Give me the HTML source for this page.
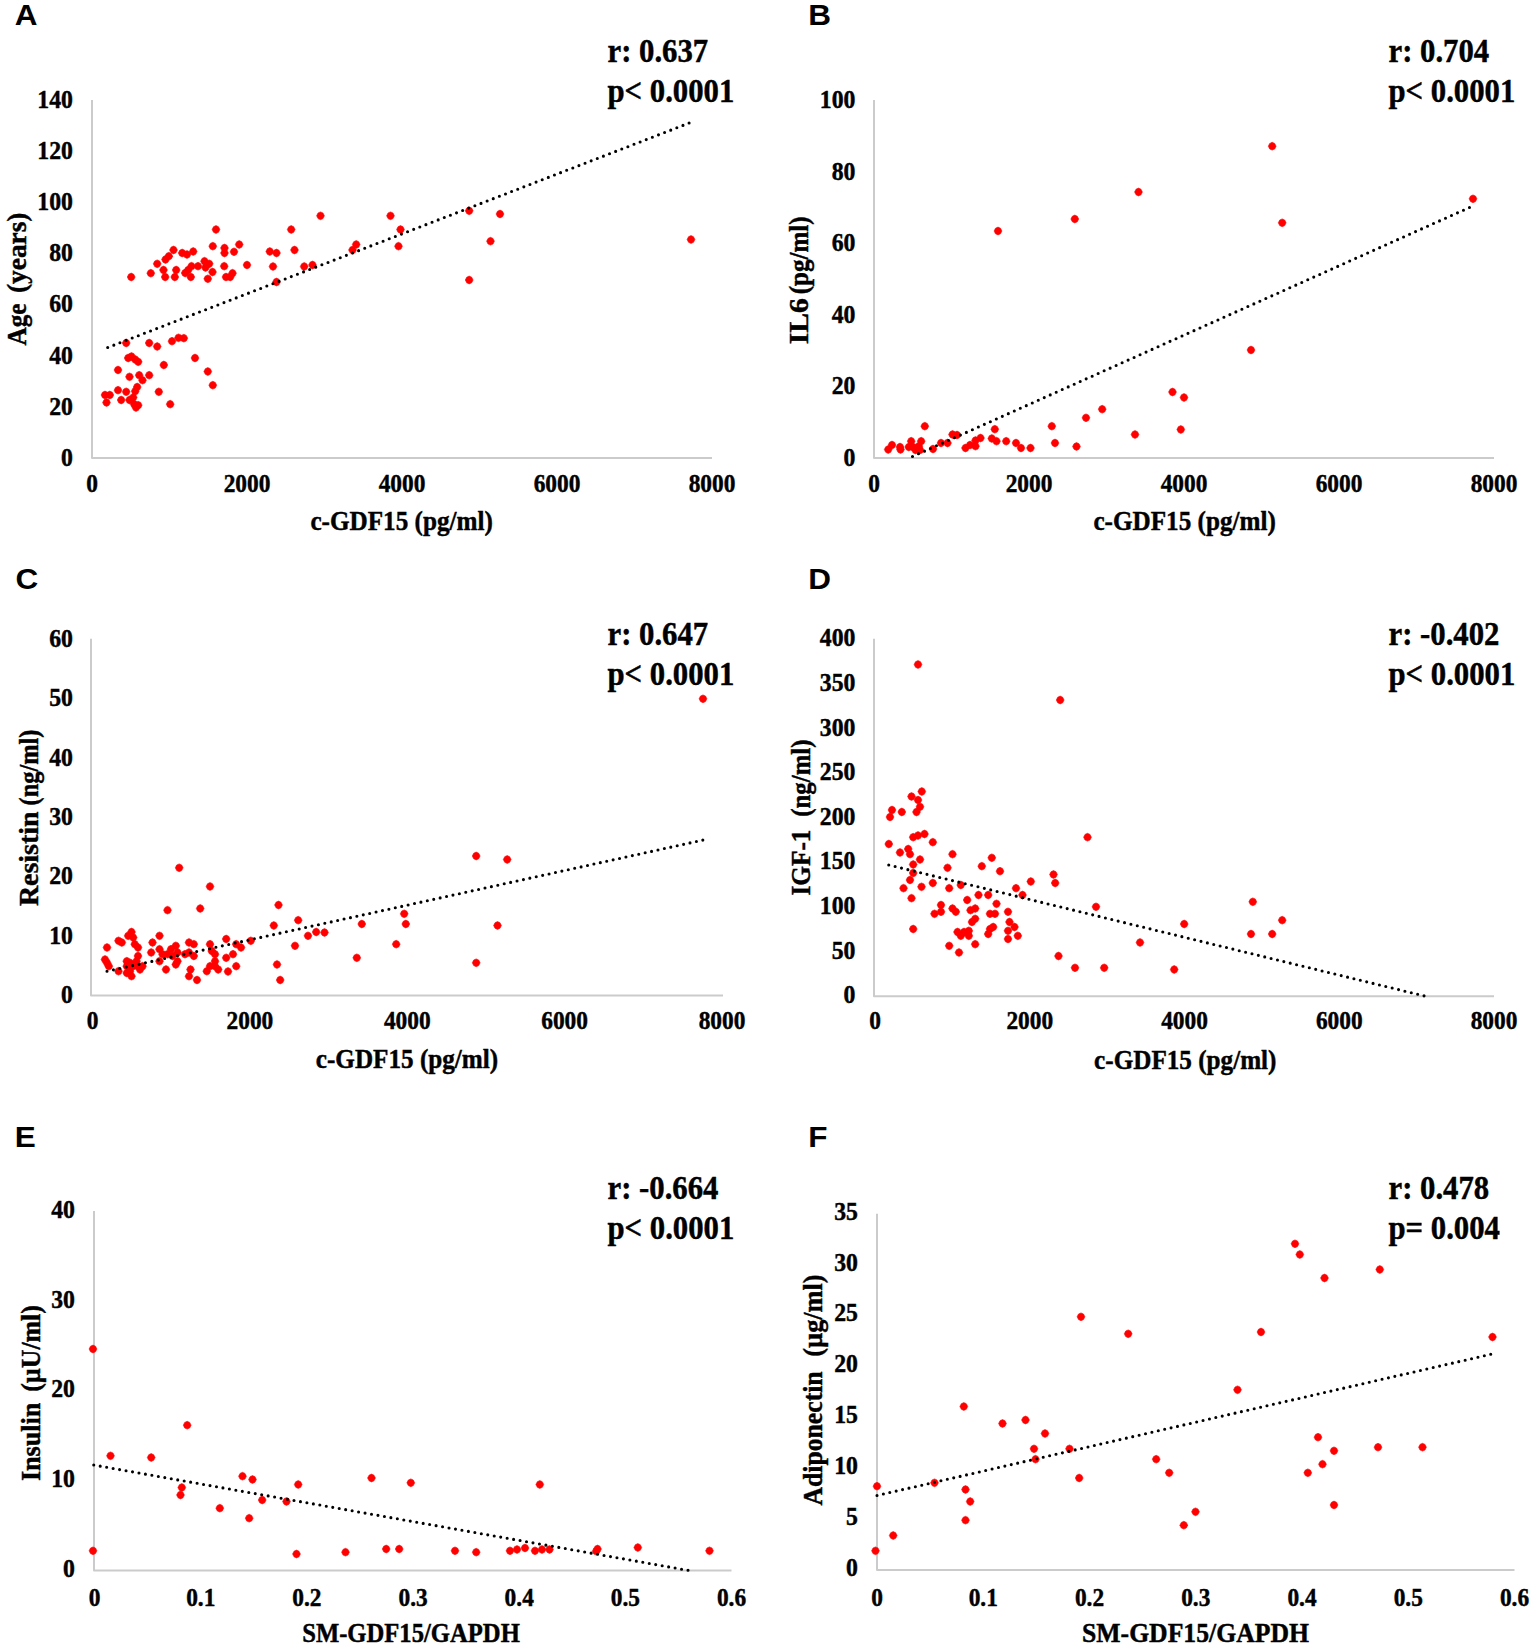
<!DOCTYPE html>
<html lang="en"><head><meta charset="utf-8"><title>Figure</title>
<style>html,body{margin:0;padding:0;background:#fff}svg{display:block}</style></head>
<body>
<svg width="1535" height="1648" viewBox="0 0 1535 1648">
<rect width="1535" height="1648" fill="#fff"/>
<defs><path id="m" d="M0 -3.9L2.5 -2.8L3.9 0L2.5 2.8L0 3.9L-2.5 2.8L-3.9 0L-2.5 -2.8Z" stroke="#fe0000" stroke-width="0.6" stroke-linejoin="round"/></defs>
<g id="panel-A">
<text transform="translate(14.8,25.3) scale(1.05,1.0)" text-anchor="start" font-size="30" font-family="Liberation Sans, sans-serif" font-weight="bold" stroke="#000" stroke-width="0">A</text>
<path d="M92 100V458.1H712" fill="none" stroke="#cbcbcb" stroke-width="2" stroke-linejoin="round"/>
<text transform="translate(72.9,465.7) scale(0.95,1.0)" text-anchor="end" font-size="25" font-family="Liberation Serif, serif" font-weight="bold" stroke="#000" stroke-width="0.45">0</text>
<text transform="translate(72.9,414.63) scale(0.95,1.0)" text-anchor="end" font-size="25" font-family="Liberation Serif, serif" font-weight="bold" stroke="#000" stroke-width="0.45">20</text>
<text transform="translate(72.9,363.56) scale(0.95,1.0)" text-anchor="end" font-size="25" font-family="Liberation Serif, serif" font-weight="bold" stroke="#000" stroke-width="0.45">40</text>
<text transform="translate(72.9,312.49) scale(0.95,1.0)" text-anchor="end" font-size="25" font-family="Liberation Serif, serif" font-weight="bold" stroke="#000" stroke-width="0.45">60</text>
<text transform="translate(72.9,261.41) scale(0.95,1.0)" text-anchor="end" font-size="25" font-family="Liberation Serif, serif" font-weight="bold" stroke="#000" stroke-width="0.45">80</text>
<text transform="translate(72.9,210.34) scale(0.95,1.0)" text-anchor="end" font-size="25" font-family="Liberation Serif, serif" font-weight="bold" stroke="#000" stroke-width="0.45">100</text>
<text transform="translate(72.9,159.27) scale(0.95,1.0)" text-anchor="end" font-size="25" font-family="Liberation Serif, serif" font-weight="bold" stroke="#000" stroke-width="0.45">120</text>
<text transform="translate(72.9,108.2) scale(0.95,1.0)" text-anchor="end" font-size="25" font-family="Liberation Serif, serif" font-weight="bold" stroke="#000" stroke-width="0.45">140</text>
<text transform="translate(92.0,492) scale(0.935,1.0)" text-anchor="middle" font-size="25" font-family="Liberation Serif, serif" font-weight="bold" stroke="#000" stroke-width="0.45">0</text>
<text transform="translate(247.0,492) scale(0.935,1.0)" text-anchor="middle" font-size="25" font-family="Liberation Serif, serif" font-weight="bold" stroke="#000" stroke-width="0.45">2000</text>
<text transform="translate(402.0,492) scale(0.935,1.0)" text-anchor="middle" font-size="25" font-family="Liberation Serif, serif" font-weight="bold" stroke="#000" stroke-width="0.45">4000</text>
<text transform="translate(557.0,492) scale(0.935,1.0)" text-anchor="middle" font-size="25" font-family="Liberation Serif, serif" font-weight="bold" stroke="#000" stroke-width="0.45">6000</text>
<text transform="translate(712.0,492) scale(0.935,1.0)" text-anchor="middle" font-size="25" font-family="Liberation Serif, serif" font-weight="bold" stroke="#000" stroke-width="0.45">8000</text>
<text transform="translate(401.6,530) scale(0.95,1.0)" text-anchor="middle" font-size="26.5" font-family="Liberation Serif, serif" font-weight="bold" stroke="#000" stroke-width="0.45">c-GDF15 (pg/ml)</text>
<text transform="translate(26.3,345.5) rotate(-90)" font-size="27.3" font-family="Liberation Serif, serif" font-weight="bold" stroke="#000" stroke-width="0.45" textLength="42.0" lengthAdjust="spacingAndGlyphs">Age</text>
<text transform="translate(26.3,293.0) rotate(-90)" font-size="27.3" font-family="Liberation Serif, serif" font-weight="bold" stroke="#000" stroke-width="0.45" textLength="80.4" lengthAdjust="spacingAndGlyphs">(years)</text>
<text transform="translate(607.5,62) scale(0.932,1.0)" text-anchor="start" font-size="33" font-family="Liberation Serif, serif" font-weight="bold" stroke="#000" stroke-width="0.45">r: 0.637</text>
<text transform="translate(607.5,102) scale(0.932,1.0)" text-anchor="start" font-size="33" font-family="Liberation Serif, serif" font-weight="bold" stroke="#000" stroke-width="0.45">p&lt; 0.0001</text>
<g fill="#fe0000">
<use href="#m" x="320.5" y="215.8"/>
<use href="#m" x="390.5" y="215.8"/>
<use href="#m" x="216.0" y="229.5"/>
<use href="#m" x="291.2" y="229.5"/>
<use href="#m" x="400.5" y="229.5"/>
<use href="#m" x="356.2" y="244.5"/>
<use href="#m" x="352.5" y="250.0"/>
<use href="#m" x="398.5" y="246.2"/>
<use href="#m" x="239.2" y="244.5"/>
<use href="#m" x="212.8" y="246.2"/>
<use href="#m" x="224.5" y="248.0"/>
<use href="#m" x="224.5" y="253.0"/>
<use href="#m" x="234.0" y="251.8"/>
<use href="#m" x="173.5" y="250.0"/>
<use href="#m" x="182.2" y="253.0"/>
<use href="#m" x="187.0" y="254.5"/>
<use href="#m" x="193.2" y="251.5"/>
<use href="#m" x="168.8" y="256.2"/>
<use href="#m" x="165.5" y="259.5"/>
<use href="#m" x="157.2" y="263.8"/>
<use href="#m" x="204.5" y="261.2"/>
<use href="#m" x="209.2" y="263.8"/>
<use href="#m" x="198.0" y="266.2"/>
<use href="#m" x="191.5" y="266.2"/>
<use href="#m" x="188.2" y="270.0"/>
<use href="#m" x="185.2" y="273.0"/>
<use href="#m" x="190.8" y="277.0"/>
<use href="#m" x="163.5" y="270.0"/>
<use href="#m" x="176.2" y="270.0"/>
<use href="#m" x="174.8" y="277.0"/>
<use href="#m" x="165.2" y="277.0"/>
<use href="#m" x="150.8" y="273.2"/>
<use href="#m" x="131.2" y="277.0"/>
<use href="#m" x="205.5" y="267.5"/>
<use href="#m" x="212.5" y="272.0"/>
<use href="#m" x="207.8" y="278.8"/>
<use href="#m" x="224.2" y="266.2"/>
<use href="#m" x="226.0" y="277.0"/>
<use href="#m" x="230.2" y="277.0"/>
<use href="#m" x="232.5" y="273.2"/>
<use href="#m" x="247.0" y="265.0"/>
<use href="#m" x="269.8" y="251.5"/>
<use href="#m" x="276.5" y="253.0"/>
<use href="#m" x="294.5" y="250.0"/>
<use href="#m" x="273.0" y="266.5"/>
<use href="#m" x="276.5" y="282.0"/>
<use href="#m" x="304.2" y="266.5"/>
<use href="#m" x="312.5" y="265.0"/>
<use href="#m" x="126.2" y="343.0"/>
<use href="#m" x="149.2" y="343.0"/>
<use href="#m" x="157.2" y="346.5"/>
<use href="#m" x="172.0" y="341.2"/>
<use href="#m" x="178.5" y="337.8"/>
<use href="#m" x="183.8" y="338.2"/>
<use href="#m" x="128.2" y="358.0"/>
<use href="#m" x="131.5" y="356.5"/>
<use href="#m" x="135.2" y="359.5"/>
<use href="#m" x="138.2" y="361.8"/>
<use href="#m" x="195.0" y="358.0"/>
<use href="#m" x="163.8" y="365.0"/>
<use href="#m" x="118.0" y="370.0"/>
<use href="#m" x="207.8" y="371.5"/>
<use href="#m" x="129.5" y="376.8"/>
<use href="#m" x="139.2" y="375.2"/>
<use href="#m" x="142.5" y="380.2"/>
<use href="#m" x="149.2" y="375.2"/>
<use href="#m" x="212.8" y="385.2"/>
<use href="#m" x="137.2" y="387.0"/>
<use href="#m" x="135.2" y="391.2"/>
<use href="#m" x="118.0" y="390.2"/>
<use href="#m" x="126.2" y="391.8"/>
<use href="#m" x="105.0" y="395.0"/>
<use href="#m" x="109.8" y="395.0"/>
<use href="#m" x="158.8" y="391.8"/>
<use href="#m" x="106.5" y="402.5"/>
<use href="#m" x="121.2" y="400.0"/>
<use href="#m" x="129.5" y="400.0"/>
<use href="#m" x="133.2" y="397.5"/>
<use href="#m" x="134.2" y="404.2"/>
<use href="#m" x="138.2" y="405.2"/>
<use href="#m" x="136.0" y="407.5"/>
<use href="#m" x="170.2" y="404.2"/>
<use href="#m" x="469.2" y="210.8"/>
<use href="#m" x="500.0" y="214.0"/>
<use href="#m" x="490.5" y="241.2"/>
<use href="#m" x="691.0" y="239.5"/>
<use href="#m" x="469.2" y="280.0"/>
</g>
<line x1="107.7" y1="347.5" x2="690.5" y2="122.5" stroke="#000" stroke-width="3.1" stroke-linecap="round" stroke-dasharray="0 6.56"/>
</g>
<g id="panel-B">
<text transform="translate(808.2,25.3) scale(1.05,1.0)" text-anchor="start" font-size="30" font-family="Liberation Sans, sans-serif" font-weight="bold" stroke="#000" stroke-width="0">B</text>
<path d="M874 100V458.1H1494" fill="none" stroke="#cbcbcb" stroke-width="2" stroke-linejoin="round"/>
<text transform="translate(855.4,465.7) scale(0.95,1.0)" text-anchor="end" font-size="25" font-family="Liberation Serif, serif" font-weight="bold" stroke="#000" stroke-width="0.45">0</text>
<text transform="translate(855.4,394.2) scale(0.95,1.0)" text-anchor="end" font-size="25" font-family="Liberation Serif, serif" font-weight="bold" stroke="#000" stroke-width="0.45">20</text>
<text transform="translate(855.4,322.7) scale(0.95,1.0)" text-anchor="end" font-size="25" font-family="Liberation Serif, serif" font-weight="bold" stroke="#000" stroke-width="0.45">40</text>
<text transform="translate(855.4,251.2) scale(0.95,1.0)" text-anchor="end" font-size="25" font-family="Liberation Serif, serif" font-weight="bold" stroke="#000" stroke-width="0.45">60</text>
<text transform="translate(855.4,179.7) scale(0.95,1.0)" text-anchor="end" font-size="25" font-family="Liberation Serif, serif" font-weight="bold" stroke="#000" stroke-width="0.45">80</text>
<text transform="translate(855.4,108.2) scale(0.95,1.0)" text-anchor="end" font-size="25" font-family="Liberation Serif, serif" font-weight="bold" stroke="#000" stroke-width="0.45">100</text>
<text transform="translate(874.0,492) scale(0.935,1.0)" text-anchor="middle" font-size="25" font-family="Liberation Serif, serif" font-weight="bold" stroke="#000" stroke-width="0.45">0</text>
<text transform="translate(1029.0,492) scale(0.935,1.0)" text-anchor="middle" font-size="25" font-family="Liberation Serif, serif" font-weight="bold" stroke="#000" stroke-width="0.45">2000</text>
<text transform="translate(1184.0,492) scale(0.935,1.0)" text-anchor="middle" font-size="25" font-family="Liberation Serif, serif" font-weight="bold" stroke="#000" stroke-width="0.45">4000</text>
<text transform="translate(1339.0,492) scale(0.935,1.0)" text-anchor="middle" font-size="25" font-family="Liberation Serif, serif" font-weight="bold" stroke="#000" stroke-width="0.45">6000</text>
<text transform="translate(1494.0,492) scale(0.935,1.0)" text-anchor="middle" font-size="25" font-family="Liberation Serif, serif" font-weight="bold" stroke="#000" stroke-width="0.45">8000</text>
<text transform="translate(1184.6,530) scale(0.95,1.0)" text-anchor="middle" font-size="26.5" font-family="Liberation Serif, serif" font-weight="bold" stroke="#000" stroke-width="0.45">c-GDF15 (pg/ml)</text>
<text transform="translate(808.3,344.25) rotate(-90)" font-size="27.7" font-family="Liberation Serif, serif" font-weight="bold" stroke="#000" stroke-width="0.45" textLength="46.0" lengthAdjust="spacingAndGlyphs">IL6</text>
<text transform="translate(808.3,294.25) rotate(-90)" font-size="27.7" font-family="Liberation Serif, serif" font-weight="bold" stroke="#000" stroke-width="0.45" textLength="77.85" lengthAdjust="spacingAndGlyphs">(pg/ml)</text>
<text transform="translate(1388.5,62) scale(0.932,1.0)" text-anchor="start" font-size="33" font-family="Liberation Serif, serif" font-weight="bold" stroke="#000" stroke-width="0.45">r: 0.704</text>
<text transform="translate(1388.5,102) scale(0.932,1.0)" text-anchor="start" font-size="33" font-family="Liberation Serif, serif" font-weight="bold" stroke="#000" stroke-width="0.45">p&lt; 0.0001</text>
<g fill="#fe0000">
<use href="#m" x="1138.5" y="192.0"/>
<use href="#m" x="1074.8" y="219.0"/>
<use href="#m" x="998.0" y="231.0"/>
<use href="#m" x="1172.5" y="392.0"/>
<use href="#m" x="1184.0" y="397.5"/>
<use href="#m" x="1102.2" y="409.2"/>
<use href="#m" x="1086.0" y="417.8"/>
<use href="#m" x="1051.8" y="426.2"/>
<use href="#m" x="924.8" y="426.2"/>
<use href="#m" x="994.8" y="429.2"/>
<use href="#m" x="1180.8" y="429.5"/>
<use href="#m" x="1135.0" y="434.5"/>
<use href="#m" x="952.5" y="434.5"/>
<use href="#m" x="957.0" y="435.0"/>
<use href="#m" x="980.5" y="438.0"/>
<use href="#m" x="975.5" y="440.5"/>
<use href="#m" x="991.8" y="438.5"/>
<use href="#m" x="996.5" y="441.2"/>
<use href="#m" x="1006.2" y="441.2"/>
<use href="#m" x="1016.0" y="443.0"/>
<use href="#m" x="1021.0" y="448.0"/>
<use href="#m" x="1030.5" y="448.0"/>
<use href="#m" x="1055.0" y="443.0"/>
<use href="#m" x="1076.5" y="446.5"/>
<use href="#m" x="941.0" y="443.0"/>
<use href="#m" x="947.5" y="443.0"/>
<use href="#m" x="933.0" y="449.0"/>
<use href="#m" x="965.5" y="448.0"/>
<use href="#m" x="970.0" y="445.0"/>
<use href="#m" x="975.5" y="446.2"/>
<use href="#m" x="892.0" y="445.0"/>
<use href="#m" x="888.2" y="449.5"/>
<use href="#m" x="900.0" y="447.0"/>
<use href="#m" x="900.5" y="449.5"/>
<use href="#m" x="911.2" y="441.2"/>
<use href="#m" x="921.2" y="441.2"/>
<use href="#m" x="908.8" y="447.0"/>
<use href="#m" x="913.8" y="447.5"/>
<use href="#m" x="918.8" y="446.2"/>
<use href="#m" x="915.5" y="450.0"/>
<use href="#m" x="920.0" y="450.0"/>
<use href="#m" x="1272.2" y="146.2"/>
<use href="#m" x="1282.2" y="222.8"/>
<use href="#m" x="1473.0" y="198.8"/>
<use href="#m" x="1251.0" y="350.0"/>
</g>
<line x1="912.5" y1="456.5" x2="1472.25" y2="206.25" stroke="#000" stroke-width="3.1" stroke-linecap="round" stroke-dasharray="0 6.56"/>
</g>
<g id="panel-C">
<text transform="translate(15.5,589.1) scale(1.05,1.0)" text-anchor="start" font-size="30" font-family="Liberation Sans, sans-serif" font-weight="bold" stroke="#000" stroke-width="0">C</text>
<path d="M91 638.75V995.6H723" fill="none" stroke="#cbcbcb" stroke-width="2" stroke-linejoin="round"/>
<text transform="translate(72.9,1003.0) scale(0.95,1.0)" text-anchor="end" font-size="25" font-family="Liberation Serif, serif" font-weight="bold" stroke="#000" stroke-width="0.45">0</text>
<text transform="translate(72.9,943.62) scale(0.95,1.0)" text-anchor="end" font-size="25" font-family="Liberation Serif, serif" font-weight="bold" stroke="#000" stroke-width="0.45">10</text>
<text transform="translate(72.9,884.25) scale(0.95,1.0)" text-anchor="end" font-size="25" font-family="Liberation Serif, serif" font-weight="bold" stroke="#000" stroke-width="0.45">20</text>
<text transform="translate(72.9,824.88) scale(0.95,1.0)" text-anchor="end" font-size="25" font-family="Liberation Serif, serif" font-weight="bold" stroke="#000" stroke-width="0.45">30</text>
<text transform="translate(72.9,765.5) scale(0.95,1.0)" text-anchor="end" font-size="25" font-family="Liberation Serif, serif" font-weight="bold" stroke="#000" stroke-width="0.45">40</text>
<text transform="translate(72.9,706.12) scale(0.95,1.0)" text-anchor="end" font-size="25" font-family="Liberation Serif, serif" font-weight="bold" stroke="#000" stroke-width="0.45">50</text>
<text transform="translate(72.9,646.75) scale(0.95,1.0)" text-anchor="end" font-size="25" font-family="Liberation Serif, serif" font-weight="bold" stroke="#000" stroke-width="0.45">60</text>
<text transform="translate(92.5,1029) scale(0.935,1.0)" text-anchor="middle" font-size="25" font-family="Liberation Serif, serif" font-weight="bold" stroke="#000" stroke-width="0.45">0</text>
<text transform="translate(249.88,1029) scale(0.935,1.0)" text-anchor="middle" font-size="25" font-family="Liberation Serif, serif" font-weight="bold" stroke="#000" stroke-width="0.45">2000</text>
<text transform="translate(407.25,1029) scale(0.935,1.0)" text-anchor="middle" font-size="25" font-family="Liberation Serif, serif" font-weight="bold" stroke="#000" stroke-width="0.45">4000</text>
<text transform="translate(564.62,1029) scale(0.935,1.0)" text-anchor="middle" font-size="25" font-family="Liberation Serif, serif" font-weight="bold" stroke="#000" stroke-width="0.45">6000</text>
<text transform="translate(722.0,1029) scale(0.935,1.0)" text-anchor="middle" font-size="25" font-family="Liberation Serif, serif" font-weight="bold" stroke="#000" stroke-width="0.45">8000</text>
<text transform="translate(407,1068) scale(0.95,1.0)" text-anchor="middle" font-size="26.5" font-family="Liberation Serif, serif" font-weight="bold" stroke="#000" stroke-width="0.45">c-GDF15 (pg/ml)</text>
<text transform="translate(38.1,906.1) rotate(-90)" font-size="27.4" font-family="Liberation Serif, serif" font-weight="bold" stroke="#000" stroke-width="0.45" textLength="94.7" lengthAdjust="spacingAndGlyphs">Resistin</text>
<text transform="translate(38.1,805.5) rotate(-90)" font-size="27.4" font-family="Liberation Serif, serif" font-weight="bold" stroke="#000" stroke-width="0.45" textLength="76.0" lengthAdjust="spacingAndGlyphs">(ng/ml)</text>
<text transform="translate(607.5,645) scale(0.932,1.0)" text-anchor="start" font-size="33" font-family="Liberation Serif, serif" font-weight="bold" stroke="#000" stroke-width="0.45">r: 0.647</text>
<text transform="translate(607.5,685) scale(0.932,1.0)" text-anchor="start" font-size="33" font-family="Liberation Serif, serif" font-weight="bold" stroke="#000" stroke-width="0.45">p&lt; 0.0001</text>
<g fill="#fe0000">
<use href="#m" x="179.2" y="867.8"/>
<use href="#m" x="210.0" y="886.5"/>
<use href="#m" x="167.5" y="910.2"/>
<use href="#m" x="200.2" y="908.5"/>
<use href="#m" x="278.5" y="905.0"/>
<use href="#m" x="404.2" y="913.8"/>
<use href="#m" x="405.8" y="924.0"/>
<use href="#m" x="361.8" y="924.0"/>
<use href="#m" x="298.2" y="920.2"/>
<use href="#m" x="273.8" y="925.5"/>
<use href="#m" x="308.0" y="935.8"/>
<use href="#m" x="316.2" y="932.0"/>
<use href="#m" x="324.5" y="932.5"/>
<use href="#m" x="295.0" y="945.8"/>
<use href="#m" x="396.2" y="944.2"/>
<use href="#m" x="356.8" y="957.8"/>
<use href="#m" x="277.0" y="964.5"/>
<use href="#m" x="280.2" y="980.0"/>
<use href="#m" x="250.8" y="940.8"/>
<use href="#m" x="226.2" y="939.0"/>
<use href="#m" x="236.2" y="944.2"/>
<use href="#m" x="241.0" y="947.5"/>
<use href="#m" x="233.0" y="954.2"/>
<use href="#m" x="226.2" y="957.8"/>
<use href="#m" x="236.2" y="966.2"/>
<use href="#m" x="228.0" y="971.5"/>
<use href="#m" x="210.0" y="944.2"/>
<use href="#m" x="211.8" y="951.0"/>
<use href="#m" x="215.0" y="954.2"/>
<use href="#m" x="215.0" y="961.2"/>
<use href="#m" x="210.0" y="966.2"/>
<use href="#m" x="206.8" y="971.2"/>
<use href="#m" x="215.0" y="966.2"/>
<use href="#m" x="218.2" y="969.5"/>
<use href="#m" x="189.0" y="942.5"/>
<use href="#m" x="193.8" y="944.2"/>
<use href="#m" x="189.0" y="952.5"/>
<use href="#m" x="193.8" y="956.0"/>
<use href="#m" x="185.0" y="954.2"/>
<use href="#m" x="190.5" y="969.5"/>
<use href="#m" x="189.0" y="976.2"/>
<use href="#m" x="197.0" y="980.0"/>
<use href="#m" x="175.8" y="945.8"/>
<use href="#m" x="171.0" y="949.2"/>
<use href="#m" x="177.5" y="952.5"/>
<use href="#m" x="172.5" y="956.0"/>
<use href="#m" x="167.5" y="954.2"/>
<use href="#m" x="177.5" y="961.2"/>
<use href="#m" x="175.8" y="964.5"/>
<use href="#m" x="166.0" y="969.5"/>
<use href="#m" x="159.5" y="935.8"/>
<use href="#m" x="152.5" y="942.5"/>
<use href="#m" x="151.2" y="952.5"/>
<use href="#m" x="159.5" y="949.2"/>
<use href="#m" x="162.5" y="954.2"/>
<use href="#m" x="159.5" y="961.2"/>
<use href="#m" x="131.5" y="932.0"/>
<use href="#m" x="128.2" y="935.8"/>
<use href="#m" x="133.2" y="937.5"/>
<use href="#m" x="134.8" y="944.2"/>
<use href="#m" x="138.0" y="947.5"/>
<use href="#m" x="138.0" y="956.0"/>
<use href="#m" x="136.5" y="961.2"/>
<use href="#m" x="118.5" y="940.8"/>
<use href="#m" x="121.8" y="942.5"/>
<use href="#m" x="107.0" y="947.5"/>
<use href="#m" x="105.0" y="959.5"/>
<use href="#m" x="107.0" y="962.8"/>
<use href="#m" x="108.8" y="966.2"/>
<use href="#m" x="118.5" y="971.2"/>
<use href="#m" x="126.8" y="961.2"/>
<use href="#m" x="130.0" y="962.8"/>
<use href="#m" x="126.8" y="966.2"/>
<use href="#m" x="133.2" y="966.2"/>
<use href="#m" x="138.0" y="966.2"/>
<use href="#m" x="142.5" y="966.2"/>
<use href="#m" x="140.0" y="969.5"/>
<use href="#m" x="126.8" y="973.0"/>
<use href="#m" x="131.5" y="976.2"/>
<use href="#m" x="130.0" y="971.2"/>
<use href="#m" x="703.0" y="698.8"/>
<use href="#m" x="476.2" y="856.0"/>
<use href="#m" x="507.2" y="859.5"/>
<use href="#m" x="497.5" y="925.5"/>
<use href="#m" x="476.2" y="962.8"/>
</g>
<line x1="107" y1="971.25" x2="703.25" y2="840" stroke="#000" stroke-width="3.1" stroke-linecap="round" stroke-dasharray="0 6.56"/>
</g>
<g id="panel-D">
<text transform="translate(808.2,589.1) scale(1.05,1.0)" text-anchor="start" font-size="30" font-family="Liberation Sans, sans-serif" font-weight="bold" stroke="#000" stroke-width="0">D</text>
<path d="M874 638.75V996.35H1494" fill="none" stroke="#cbcbcb" stroke-width="2" stroke-linejoin="round"/>
<text transform="translate(855.4,1003.25) scale(0.95,1.0)" text-anchor="end" font-size="25" font-family="Liberation Serif, serif" font-weight="bold" stroke="#000" stroke-width="0.45">0</text>
<text transform="translate(855.4,958.62) scale(0.95,1.0)" text-anchor="end" font-size="25" font-family="Liberation Serif, serif" font-weight="bold" stroke="#000" stroke-width="0.45">50</text>
<text transform="translate(855.4,914.0) scale(0.95,1.0)" text-anchor="end" font-size="25" font-family="Liberation Serif, serif" font-weight="bold" stroke="#000" stroke-width="0.45">100</text>
<text transform="translate(855.4,869.38) scale(0.95,1.0)" text-anchor="end" font-size="25" font-family="Liberation Serif, serif" font-weight="bold" stroke="#000" stroke-width="0.45">150</text>
<text transform="translate(855.4,824.75) scale(0.95,1.0)" text-anchor="end" font-size="25" font-family="Liberation Serif, serif" font-weight="bold" stroke="#000" stroke-width="0.45">200</text>
<text transform="translate(855.4,780.12) scale(0.95,1.0)" text-anchor="end" font-size="25" font-family="Liberation Serif, serif" font-weight="bold" stroke="#000" stroke-width="0.45">250</text>
<text transform="translate(855.4,735.5) scale(0.95,1.0)" text-anchor="end" font-size="25" font-family="Liberation Serif, serif" font-weight="bold" stroke="#000" stroke-width="0.45">300</text>
<text transform="translate(855.4,690.88) scale(0.95,1.0)" text-anchor="end" font-size="25" font-family="Liberation Serif, serif" font-weight="bold" stroke="#000" stroke-width="0.45">350</text>
<text transform="translate(855.4,646.25) scale(0.95,1.0)" text-anchor="end" font-size="25" font-family="Liberation Serif, serif" font-weight="bold" stroke="#000" stroke-width="0.45">400</text>
<text transform="translate(875.0,1029) scale(0.935,1.0)" text-anchor="middle" font-size="25" font-family="Liberation Serif, serif" font-weight="bold" stroke="#000" stroke-width="0.45">0</text>
<text transform="translate(1029.75,1029) scale(0.935,1.0)" text-anchor="middle" font-size="25" font-family="Liberation Serif, serif" font-weight="bold" stroke="#000" stroke-width="0.45">2000</text>
<text transform="translate(1184.5,1029) scale(0.935,1.0)" text-anchor="middle" font-size="25" font-family="Liberation Serif, serif" font-weight="bold" stroke="#000" stroke-width="0.45">4000</text>
<text transform="translate(1339.25,1029) scale(0.935,1.0)" text-anchor="middle" font-size="25" font-family="Liberation Serif, serif" font-weight="bold" stroke="#000" stroke-width="0.45">6000</text>
<text transform="translate(1494.0,1029) scale(0.935,1.0)" text-anchor="middle" font-size="25" font-family="Liberation Serif, serif" font-weight="bold" stroke="#000" stroke-width="0.45">8000</text>
<text transform="translate(1185.3,1069.3) scale(0.95,1.0)" text-anchor="middle" font-size="26.5" font-family="Liberation Serif, serif" font-weight="bold" stroke="#000" stroke-width="0.45">c-GDF15 (pg/ml)</text>
<text transform="translate(809.9,895.5) rotate(-90)" font-size="27.4" font-family="Liberation Serif, serif" font-weight="bold" stroke="#000" stroke-width="0.45" textLength="66.0" lengthAdjust="spacingAndGlyphs">IGF-1</text>
<text transform="translate(809.9,816.75) rotate(-90)" font-size="27.4" font-family="Liberation Serif, serif" font-weight="bold" stroke="#000" stroke-width="0.45" textLength="77.25" lengthAdjust="spacingAndGlyphs">(ng/ml)</text>
<text transform="translate(1388.5,645) scale(0.932,1.0)" text-anchor="start" font-size="33" font-family="Liberation Serif, serif" font-weight="bold" stroke="#000" stroke-width="0.45">r: -0.402</text>
<text transform="translate(1388.5,685) scale(0.932,1.0)" text-anchor="start" font-size="33" font-family="Liberation Serif, serif" font-weight="bold" stroke="#000" stroke-width="0.45">p&lt; 0.0001</text>
<g fill="#fe0000">
<use href="#m" x="918.0" y="664.5"/>
<use href="#m" x="1060.2" y="700.0"/>
<use href="#m" x="921.8" y="791.5"/>
<use href="#m" x="911.5" y="796.5"/>
<use href="#m" x="918.0" y="800.0"/>
<use href="#m" x="920.0" y="806.8"/>
<use href="#m" x="916.5" y="812.0"/>
<use href="#m" x="892.0" y="810.0"/>
<use href="#m" x="890.0" y="817.0"/>
<use href="#m" x="901.8" y="812.0"/>
<use href="#m" x="924.5" y="834.0"/>
<use href="#m" x="918.0" y="835.5"/>
<use href="#m" x="913.2" y="837.2"/>
<use href="#m" x="932.8" y="842.2"/>
<use href="#m" x="888.8" y="844.0"/>
<use href="#m" x="1087.5" y="837.2"/>
<use href="#m" x="900.0" y="852.5"/>
<use href="#m" x="908.2" y="849.0"/>
<use href="#m" x="910.0" y="854.2"/>
<use href="#m" x="952.5" y="854.2"/>
<use href="#m" x="920.0" y="859.5"/>
<use href="#m" x="991.8" y="857.8"/>
<use href="#m" x="913.2" y="864.5"/>
<use href="#m" x="947.5" y="867.8"/>
<use href="#m" x="981.8" y="866.2"/>
<use href="#m" x="1000.0" y="871.2"/>
<use href="#m" x="913.2" y="873.0"/>
<use href="#m" x="1053.5" y="874.5"/>
<use href="#m" x="910.0" y="880.0"/>
<use href="#m" x="932.8" y="883.0"/>
<use href="#m" x="1030.8" y="881.5"/>
<use href="#m" x="1055.2" y="883.0"/>
<use href="#m" x="960.8" y="885.0"/>
<use href="#m" x="921.5" y="886.8"/>
<use href="#m" x="903.5" y="888.2"/>
<use href="#m" x="949.2" y="888.2"/>
<use href="#m" x="1016.0" y="888.2"/>
<use href="#m" x="978.5" y="895.0"/>
<use href="#m" x="988.2" y="895.0"/>
<use href="#m" x="1022.5" y="895.0"/>
<use href="#m" x="911.5" y="898.2"/>
<use href="#m" x="967.2" y="900.0"/>
<use href="#m" x="996.5" y="903.8"/>
<use href="#m" x="941.0" y="905.0"/>
<use href="#m" x="1096.0" y="906.8"/>
<use href="#m" x="952.5" y="908.5"/>
<use href="#m" x="975.2" y="908.5"/>
<use href="#m" x="970.5" y="910.2"/>
<use href="#m" x="955.8" y="911.8"/>
<use href="#m" x="941.0" y="911.8"/>
<use href="#m" x="934.5" y="913.8"/>
<use href="#m" x="1008.0" y="911.8"/>
<use href="#m" x="990.0" y="913.8"/>
<use href="#m" x="995.0" y="913.8"/>
<use href="#m" x="975.2" y="918.8"/>
<use href="#m" x="972.0" y="922.0"/>
<use href="#m" x="1009.5" y="922.0"/>
<use href="#m" x="1014.5" y="927.0"/>
<use href="#m" x="1184.2" y="924.0"/>
<use href="#m" x="993.2" y="927.0"/>
<use href="#m" x="990.0" y="929.0"/>
<use href="#m" x="913.2" y="929.0"/>
<use href="#m" x="1008.0" y="930.8"/>
<use href="#m" x="957.5" y="932.0"/>
<use href="#m" x="964.0" y="932.0"/>
<use href="#m" x="968.8" y="930.8"/>
<use href="#m" x="960.8" y="935.8"/>
<use href="#m" x="968.8" y="935.8"/>
<use href="#m" x="988.2" y="934.0"/>
<use href="#m" x="1017.8" y="935.8"/>
<use href="#m" x="1008.0" y="939.0"/>
<use href="#m" x="1140.0" y="942.5"/>
<use href="#m" x="975.2" y="944.2"/>
<use href="#m" x="949.2" y="945.8"/>
<use href="#m" x="959.0" y="952.5"/>
<use href="#m" x="1058.5" y="956.0"/>
<use href="#m" x="1075.0" y="967.8"/>
<use href="#m" x="1104.2" y="967.8"/>
<use href="#m" x="1174.2" y="969.5"/>
<use href="#m" x="1252.8" y="901.8"/>
<use href="#m" x="1282.2" y="920.2"/>
<use href="#m" x="1251.0" y="934.0"/>
<use href="#m" x="1272.2" y="934.0"/>
</g>
<line x1="888.75" y1="865" x2="1427.5" y2="996.7" stroke="#000" stroke-width="3.1" stroke-linecap="round" stroke-dasharray="0 6.56"/>
</g>
<g id="panel-E">
<text transform="translate(14.8,1146.9) scale(1.05,1.0)" text-anchor="start" font-size="30" font-family="Liberation Sans, sans-serif" font-weight="bold" stroke="#000" stroke-width="0">E</text>
<path d="M94 1211V1570.6H731.5" fill="none" stroke="#cbcbcb" stroke-width="2" stroke-linejoin="round"/>
<text transform="translate(74.9,1576.9) scale(0.95,1.0)" text-anchor="end" font-size="25" font-family="Liberation Serif, serif" font-weight="bold" stroke="#000" stroke-width="0.45">0</text>
<text transform="translate(74.9,1487.15) scale(0.95,1.0)" text-anchor="end" font-size="25" font-family="Liberation Serif, serif" font-weight="bold" stroke="#000" stroke-width="0.45">10</text>
<text transform="translate(74.9,1397.4) scale(0.95,1.0)" text-anchor="end" font-size="25" font-family="Liberation Serif, serif" font-weight="bold" stroke="#000" stroke-width="0.45">20</text>
<text transform="translate(74.9,1307.65) scale(0.95,1.0)" text-anchor="end" font-size="25" font-family="Liberation Serif, serif" font-weight="bold" stroke="#000" stroke-width="0.45">30</text>
<text transform="translate(74.9,1217.9) scale(0.95,1.0)" text-anchor="end" font-size="25" font-family="Liberation Serif, serif" font-weight="bold" stroke="#000" stroke-width="0.45">40</text>
<text transform="translate(94.6,1606) scale(0.935,1.0)" text-anchor="middle" font-size="25" font-family="Liberation Serif, serif" font-weight="bold" stroke="#000" stroke-width="0.45">0</text>
<text transform="translate(200.75,1606) scale(0.935,1.0)" text-anchor="middle" font-size="25" font-family="Liberation Serif, serif" font-weight="bold" stroke="#000" stroke-width="0.45">0.1</text>
<text transform="translate(306.9,1606) scale(0.935,1.0)" text-anchor="middle" font-size="25" font-family="Liberation Serif, serif" font-weight="bold" stroke="#000" stroke-width="0.45">0.2</text>
<text transform="translate(413.05,1606) scale(0.935,1.0)" text-anchor="middle" font-size="25" font-family="Liberation Serif, serif" font-weight="bold" stroke="#000" stroke-width="0.45">0.3</text>
<text transform="translate(519.2,1606) scale(0.935,1.0)" text-anchor="middle" font-size="25" font-family="Liberation Serif, serif" font-weight="bold" stroke="#000" stroke-width="0.45">0.4</text>
<text transform="translate(625.35,1606) scale(0.935,1.0)" text-anchor="middle" font-size="25" font-family="Liberation Serif, serif" font-weight="bold" stroke="#000" stroke-width="0.45">0.5</text>
<text transform="translate(731.5,1606) scale(0.935,1.0)" text-anchor="middle" font-size="25" font-family="Liberation Serif, serif" font-weight="bold" stroke="#000" stroke-width="0.45">0.6</text>
<text transform="translate(411,1642) scale(0.93,1.0)" text-anchor="middle" font-size="26.5" font-family="Liberation Serif, serif" font-weight="bold" stroke="#000" stroke-width="0.45">SM-GDF15/GAPDH</text>
<text transform="translate(40,1481.1) rotate(-90)" font-size="28" font-family="Liberation Serif, serif" font-weight="bold" stroke="#000" stroke-width="0.45" textLength="78.5" lengthAdjust="spacingAndGlyphs">Insulin</text>
<text transform="translate(40,1391.75) rotate(-90)" font-size="28" font-family="Liberation Serif, serif" font-weight="bold" stroke="#000" stroke-width="0.45" textLength="86.65" lengthAdjust="spacingAndGlyphs">(µU/ml)</text>
<text transform="translate(607.5,1199) scale(0.932,1.0)" text-anchor="start" font-size="33" font-family="Liberation Serif, serif" font-weight="bold" stroke="#000" stroke-width="0.45">r: -0.664</text>
<text transform="translate(607.5,1238.5) scale(0.932,1.0)" text-anchor="start" font-size="33" font-family="Liberation Serif, serif" font-weight="bold" stroke="#000" stroke-width="0.45">p&lt; 0.0001</text>
<g fill="#fe0000">
<use href="#m" x="93.0" y="1349.0"/>
<use href="#m" x="187.2" y="1425.2"/>
<use href="#m" x="110.5" y="1455.8"/>
<use href="#m" x="151.2" y="1457.5"/>
<use href="#m" x="242.5" y="1476.2"/>
<use href="#m" x="252.5" y="1479.5"/>
<use href="#m" x="298.2" y="1484.5"/>
<use href="#m" x="371.5" y="1478.0"/>
<use href="#m" x="410.8" y="1482.8"/>
<use href="#m" x="181.8" y="1487.5"/>
<use href="#m" x="180.5" y="1495.0"/>
<use href="#m" x="262.2" y="1500.0"/>
<use href="#m" x="286.5" y="1501.5"/>
<use href="#m" x="219.8" y="1508.2"/>
<use href="#m" x="249.2" y="1518.2"/>
<use href="#m" x="93.0" y="1550.8"/>
<use href="#m" x="296.5" y="1554.0"/>
<use href="#m" x="345.5" y="1552.2"/>
<use href="#m" x="386.2" y="1549.0"/>
<use href="#m" x="399.2" y="1549.0"/>
<use href="#m" x="539.8" y="1484.5"/>
<use href="#m" x="455.0" y="1550.8"/>
<use href="#m" x="476.2" y="1552.2"/>
<use href="#m" x="510.0" y="1550.8"/>
<use href="#m" x="517.0" y="1549.5"/>
<use href="#m" x="525.0" y="1548.0"/>
<use href="#m" x="535.0" y="1550.8"/>
<use href="#m" x="542.0" y="1549.5"/>
<use href="#m" x="549.5" y="1549.5"/>
<use href="#m" x="596.2" y="1551.2"/>
<use href="#m" x="597.5" y="1549.0"/>
<use href="#m" x="637.8" y="1547.5"/>
<use href="#m" x="709.5" y="1550.8"/>
</g>
<line x1="93.75" y1="1465" x2="691" y2="1570.85" stroke="#000" stroke-width="3.1" stroke-linecap="round" stroke-dasharray="0 6.56"/>
</g>
<g id="panel-F">
<text transform="translate(808.2,1146.9) scale(1.05,1.0)" text-anchor="start" font-size="30" font-family="Liberation Sans, sans-serif" font-weight="bold" stroke="#000" stroke-width="0">F</text>
<path d="M877 1213.75V1570.1H1514.5" fill="none" stroke="#cbcbcb" stroke-width="2" stroke-linejoin="round"/>
<text transform="translate(857.9,1575.5) scale(0.95,1.0)" text-anchor="end" font-size="25" font-family="Liberation Serif, serif" font-weight="bold" stroke="#000" stroke-width="0.45">0</text>
<text transform="translate(857.9,1524.68) scale(0.95,1.0)" text-anchor="end" font-size="25" font-family="Liberation Serif, serif" font-weight="bold" stroke="#000" stroke-width="0.45">5</text>
<text transform="translate(857.9,1473.86) scale(0.95,1.0)" text-anchor="end" font-size="25" font-family="Liberation Serif, serif" font-weight="bold" stroke="#000" stroke-width="0.45">10</text>
<text transform="translate(857.9,1423.04) scale(0.95,1.0)" text-anchor="end" font-size="25" font-family="Liberation Serif, serif" font-weight="bold" stroke="#000" stroke-width="0.45">15</text>
<text transform="translate(857.9,1372.21) scale(0.95,1.0)" text-anchor="end" font-size="25" font-family="Liberation Serif, serif" font-weight="bold" stroke="#000" stroke-width="0.45">20</text>
<text transform="translate(857.9,1321.39) scale(0.95,1.0)" text-anchor="end" font-size="25" font-family="Liberation Serif, serif" font-weight="bold" stroke="#000" stroke-width="0.45">25</text>
<text transform="translate(857.9,1270.57) scale(0.95,1.0)" text-anchor="end" font-size="25" font-family="Liberation Serif, serif" font-weight="bold" stroke="#000" stroke-width="0.45">30</text>
<text transform="translate(857.9,1219.75) scale(0.95,1.0)" text-anchor="end" font-size="25" font-family="Liberation Serif, serif" font-weight="bold" stroke="#000" stroke-width="0.45">35</text>
<text transform="translate(877.0,1606) scale(0.935,1.0)" text-anchor="middle" font-size="25" font-family="Liberation Serif, serif" font-weight="bold" stroke="#000" stroke-width="0.45">0</text>
<text transform="translate(983.25,1606) scale(0.935,1.0)" text-anchor="middle" font-size="25" font-family="Liberation Serif, serif" font-weight="bold" stroke="#000" stroke-width="0.45">0.1</text>
<text transform="translate(1089.5,1606) scale(0.935,1.0)" text-anchor="middle" font-size="25" font-family="Liberation Serif, serif" font-weight="bold" stroke="#000" stroke-width="0.45">0.2</text>
<text transform="translate(1195.75,1606) scale(0.935,1.0)" text-anchor="middle" font-size="25" font-family="Liberation Serif, serif" font-weight="bold" stroke="#000" stroke-width="0.45">0.3</text>
<text transform="translate(1302.0,1606) scale(0.935,1.0)" text-anchor="middle" font-size="25" font-family="Liberation Serif, serif" font-weight="bold" stroke="#000" stroke-width="0.45">0.4</text>
<text transform="translate(1408.25,1606) scale(0.935,1.0)" text-anchor="middle" font-size="25" font-family="Liberation Serif, serif" font-weight="bold" stroke="#000" stroke-width="0.45">0.5</text>
<text transform="translate(1514.5,1606) scale(0.935,1.0)" text-anchor="middle" font-size="25" font-family="Liberation Serif, serif" font-weight="bold" stroke="#000" stroke-width="0.45">0.6</text>
<text transform="translate(1195.5,1641.5) scale(0.97,1.0)" text-anchor="middle" font-size="26.5" font-family="Liberation Serif, serif" font-weight="bold" stroke="#000" stroke-width="0.45">SM-GDF15/GAPDH</text>
<text transform="translate(822.3,1505.5) rotate(-90)" font-size="28" font-family="Liberation Serif, serif" font-weight="bold" stroke="#000" stroke-width="0.45" textLength="134.1" lengthAdjust="spacingAndGlyphs">Adiponectin</text>
<text transform="translate(822.3,1356.75) rotate(-90)" font-size="28" font-family="Liberation Serif, serif" font-weight="bold" stroke="#000" stroke-width="0.45" textLength="82.25" lengthAdjust="spacingAndGlyphs">(µg/ml)</text>
<text transform="translate(1388.5,1199) scale(0.932,1.0)" text-anchor="start" font-size="33" font-family="Liberation Serif, serif" font-weight="bold" stroke="#000" stroke-width="0.45">r: 0.478</text>
<text transform="translate(1388.5,1238.5) scale(0.932,1.0)" text-anchor="start" font-size="33" font-family="Liberation Serif, serif" font-weight="bold" stroke="#000" stroke-width="0.45">p= 0.004</text>
<g fill="#fe0000">
<use href="#m" x="1081.0" y="1316.8"/>
<use href="#m" x="1128.2" y="1333.8"/>
<use href="#m" x="1237.5" y="1389.8"/>
<use href="#m" x="963.8" y="1406.5"/>
<use href="#m" x="1002.5" y="1423.5"/>
<use href="#m" x="1025.5" y="1420.0"/>
<use href="#m" x="1045.0" y="1433.5"/>
<use href="#m" x="1034.0" y="1448.8"/>
<use href="#m" x="1069.5" y="1448.8"/>
<use href="#m" x="1035.5" y="1459.2"/>
<use href="#m" x="1156.2" y="1459.2"/>
<use href="#m" x="1169.2" y="1472.8"/>
<use href="#m" x="1079.2" y="1478.0"/>
<use href="#m" x="877.0" y="1486.2"/>
<use href="#m" x="934.5" y="1482.8"/>
<use href="#m" x="965.5" y="1489.5"/>
<use href="#m" x="970.2" y="1501.5"/>
<use href="#m" x="965.5" y="1520.2"/>
<use href="#m" x="1195.5" y="1511.8"/>
<use href="#m" x="1183.8" y="1525.2"/>
<use href="#m" x="893.2" y="1535.5"/>
<use href="#m" x="875.5" y="1550.8"/>
<use href="#m" x="1295.0" y="1243.8"/>
<use href="#m" x="1299.8" y="1254.5"/>
<use href="#m" x="1379.8" y="1269.5"/>
<use href="#m" x="1324.5" y="1278.0"/>
<use href="#m" x="1261.0" y="1332.0"/>
<use href="#m" x="1492.5" y="1337.0"/>
<use href="#m" x="1318.0" y="1437.2"/>
<use href="#m" x="1334.0" y="1450.8"/>
<use href="#m" x="1378.0" y="1447.2"/>
<use href="#m" x="1422.5" y="1447.2"/>
<use href="#m" x="1322.5" y="1464.2"/>
<use href="#m" x="1307.8" y="1472.8"/>
<use href="#m" x="1334.0" y="1505.0"/>
</g>
<line x1="877" y1="1495.5" x2="1491" y2="1354.25" stroke="#000" stroke-width="3.1" stroke-linecap="round" stroke-dasharray="0 6.56"/>
</g>
</svg>
</body></html>
